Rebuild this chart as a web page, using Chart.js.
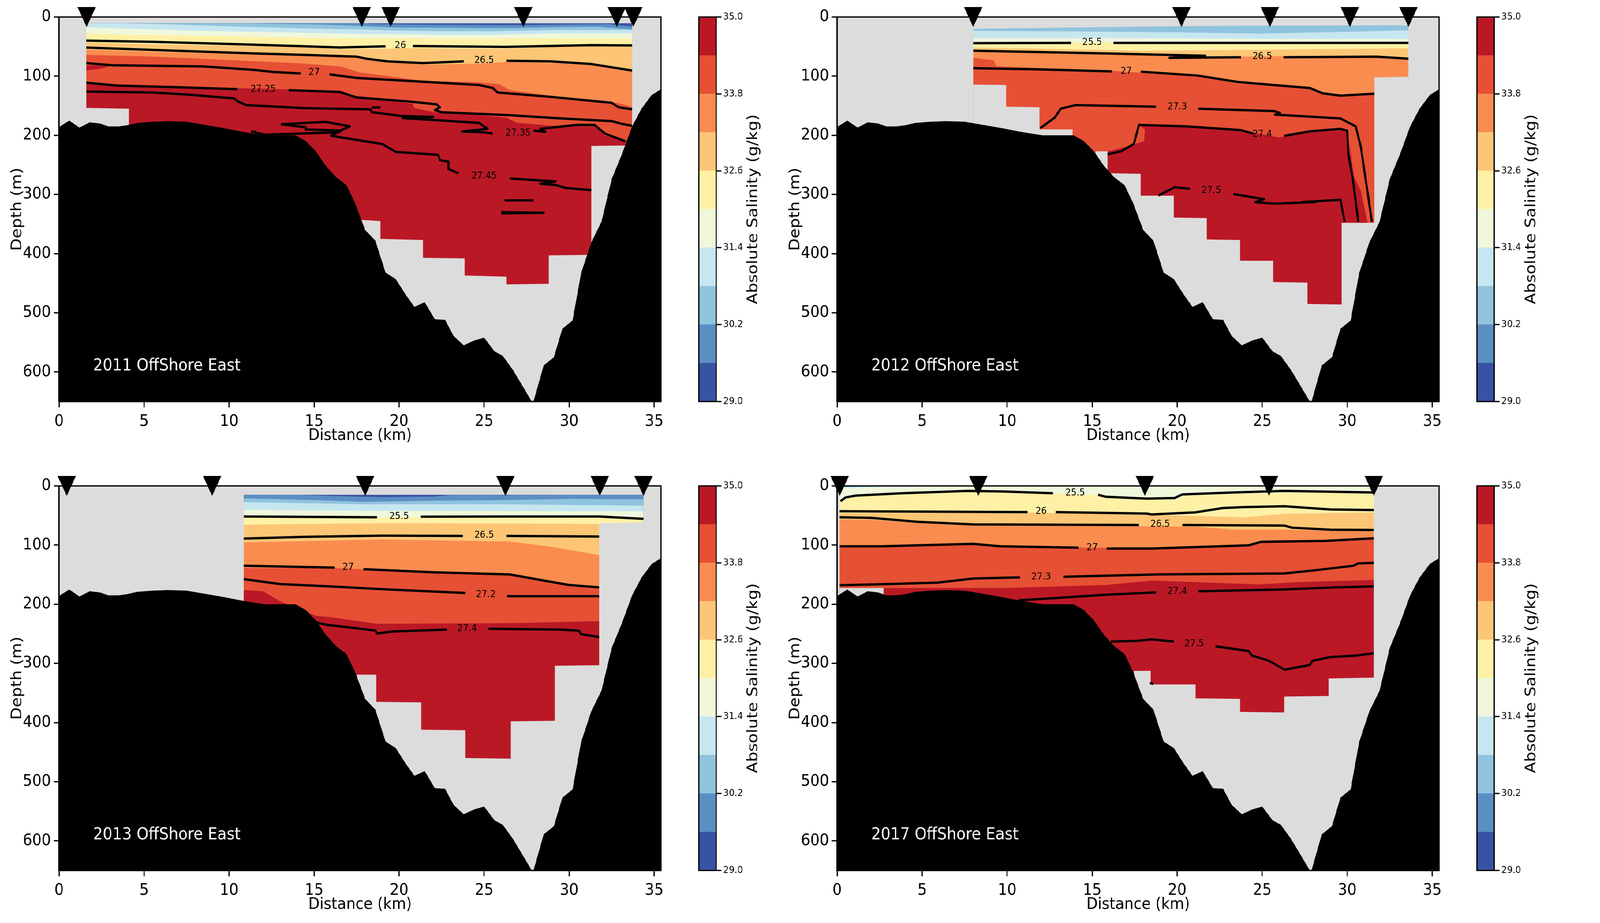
<!DOCTYPE html>
<html>
<head>
<meta charset="utf-8">
<title>OffShore East salinity sections</title>
<script src="https://cdn.jsdelivr.net/npm/chart.js@4/dist/chart.umd.js"></script>
<style>
  html, body { margin: 0; background: #fff; overflow: hidden; }
  #figure { position: absolute; left: 0; top: 0; width: 4524px; height: 2362px; transform-origin: 0 0; }
  canvas { position: absolute; }
</style>
</head>
<body>
<div id="figure"></div>
<script>
// bathymetry, km / m
const bathymetry = [[0,186],[0.6,175],[1.2,187],[1.8,178],[2.4,180],[2.9,185],[3.5,185],[4,183],[4.6,179],[5.5,177],[6.4,176],[7.5,177],[8.5,182],[9.7,188],[10.6,193],[11.2,196],[12.1,200],[13.9,200],[14.5,209.5],[15.1,227],[15.7,252],[16.3,271],[16.9,284],[17.4,314],[18,360],[18.6,378],[19.2,432],[19.8,443],[20.4,470],[20.9,490],[21.5,482],[22.1,511],[22.7,512],[23.2,539],[23.8,555],[24.4,547],[25,542],[25.6,565],[26.1,573],[26.7,597],[27.2,621],[27.8,650],[27.9,650],[28.5,589],[29.1,575],[29.6,527],[30.2,513],[30.7,433],[31.3,381],[31.9,346],[32.5,274],[33.1,232],[33.7,185],[34.25,155],[34.85,132],[35.4,122]];

const cbarColors = ['#3953a4','#5b8fc4','#90c3dd','#c6e6f0','#f0f8dc','#fef1a6','#fdc676','#fa8c50','#e65034','#bb1826'];
const cbarEdges = [29,29.6,30.2,30.8,31.4,32,32.6,33.2,33.8,34.4,35];
const cbarTicks = [29,30.2,31.4,32.6,33.8,35];

// top edge of each salinity band (index = colour), null when the band is absent
const bands2011 = [
  [[1.6,10.5],[33.7,10.5]],
  [[1.6,10.5],[17.9,10.5],[18.5,12],[22.1,13],[26.9,13.8],[30.5,12.5],[32.3,12],[33.7,16]],
  [[1.6,10.5],[10.9,10.5],[12.8,11.8],[15.2,12.5],[17.6,15],[19.7,17.6],[22.1,18],[24.5,18.7],[26.9,18.7],[29.3,17],[31.7,16.4],[33.7,20.8]],
  [[1.6,10.5],[3.7,10.5],[6,12],[9.2,15],[11.6,17],[14,19],[17.6,21],[19.7,23],[22.1,24],[25.7,24],[29.3,22],[33.7,22]],
  [[1.6,17.5],[4.4,20],[9.2,24],[12.8,26],[17.6,28.6],[19.7,29],[22.1,30],[25.7,30],[29.3,27.6],[33.7,27.6]],
  [[1.6,27.5],[4.4,30],[9.2,32],[12.8,34],[17.6,36],[33.7,36]],
  [[1.6,43],[5.6,46],[10.4,48.5],[14,50.7],[16.4,54],[18.5,54],[20.9,52.5],[25.7,54],[29.3,50.5],[33.7,46]],
  [[1.6,55],[5.6,59],[11.6,63],[16.4,65],[17.34,68],[19.1,76],[21.4,80.5],[24.5,79],[26.3,76],[29.3,78],[31.7,81.6],[33.7,91.5]],
  [[1.6,64],[5.6,67],[9.2,71.6],[14,78],[16.6,83.8],[17.7,94],[19.1,99],[21.5,108],[24.5,110],[25.9,113.6],[26.5,123.5],[29.3,134.5],[31.7,141],[32.9,145.6],[33.7,152]],
  [[1.6,111],[5.6,117],[11.6,121],[16.6,124.6],[17.34,133],[19,139],[20.8,146.6],[20.9,154],[22.1,161],[24.5,165.5],[26.3,170],[26.9,178.7],[29,184],[30.4,184.5],[31.5,185],[32.1,200],[33.3,210],[33.7,212]]
];
const bands2012 = [
  null, null,
  [[8,20],[12,18.5],[20,15.5],[25.6,14.5],[33.6,14]],
  [[8,23.4],[14,24.5],[20,26],[25,28],[30,25],[33.6,22.5]],
  [[8,36],[20,36],[25,37],[33.6,36.8]],
  [[8,43],[33.6,43]],
  [[8,52],[12,53.5],[18,57],[22,56],[26,55],[33.6,53]],
  [[8,58],[14,60],[19,66],[22,68],[26,66],[30,67],[33.6,70.5]],
  [[8,69],[9.2,73],[9.35,83],[11.9,86.5],[15.8,90.5],[21.35,100.4],[23.6,112.8],[27.8,120],[28.7,131],[29.6,135],[31.6,130]],
  null
];
const bands2013 = [
  [[10.86,15],[34.37,15]],
  [[10.86,15],[14,15],[16,17],[19,19],[22,18],[23,15.5],[34.37,15]],
  [[10.86,21],[15,24],[18,27],[22,25],[26,24],[30,22],[34.37,22.5]],
  [[10.86,27.3],[18,31],[26,31],[34.37,33.3]],
  [[10.86,40.8],[18,42],[34.37,43]],
  [[10.86,53],[34.37,53]],
  [[10.86,65.6],[19,63],[31.76,64],[34.37,62]],
  [[10.86,95.4],[19,90.5],[26.5,94],[29,103],[31.76,117]],
  [[10.86,138.7],[16,138.7],[26.5,150],[29,165],[31.76,172.5]],
  [[10.86,176],[12,178],[13,195],[15.1,219.7],[16,222],[18.7,233],[26.5,232],[31.76,228.6]]
];
const bands2017 = [
  null,
  [[0.15,0],[31.56,0]],
  [[0.15,1.5],[2,0.8],[5,0],[31.56,0]],
  [[0.15,2],[2,1.2],[7,0],[31.56,0]],
  [[0.15,4],[3,2],[9,0],[31.56,0]],
  [[0.15,26],[1,18],[3,15],[8,10],[13,13],[16,16],[18,22],[20,22],[20.5,16],[25,12],[28,11],[31.56,12]],
  [[0.15,46],[11.2,45],[18.2,49],[20,50],[24,53],[26.3,47],[31.56,45]],
  [[0.15,56.7],[2,57],[4.7,63],[8,67],[17.75,68],[21.2,69],[23.3,74],[26.3,74],[31.56,77]],
  [[0.15,102],[8,98.5],[14,104],[18.5,105.5],[24.2,100],[25,95],[28.7,93],[31.56,88]],
  [[0.15,172.5],[9.8,172.5],[15.8,167.5],[18.5,160],[24.8,166.5],[27.2,162.5],[31.56,159]]
];

// closed dark red areas that are not a simple top edge
const patches2011 = [[[1.6,82],[3,81],[2.9,84],[2.3,88],[1.6,90]]];
const patches2012 = [[[15.9,227],[17,219.7],[18.05,209.7],[18.1,190],[17.75,182.4],[20.6,185],[23.9,192.3],[26,203.8],[27.8,192.3],[29.6,189],[30,192.3],[30.4,269.4],[30.8,294],[31.2,348],[31.2,500],[15.9,500]]];
const patches2013 = [];
const patches2017 = [];

// bottom of the sampled section
const floor2011 = [[1.6,153.6],[4.1,155],[4.1,650],[17.8,650],[17.8,343],[18.9,345],[18.9,375],[21.4,377],[21.4,407],[23.85,408],[23.85,437],[26.3,439],[26.3,452],[28.8,451],[28.8,403],[31.3,402],[31.3,218],[33.7,217]];
const floor2012 = [[8,114.3],[9.94,115],[9.94,151.6],[11.9,152.6],[11.9,190],[13.85,190],[13.85,650],[15.2,650],[15.2,227],[15.9,227],[15.9,264],[17.85,265],[17.85,302],[19.8,302],[19.8,339],[21.74,340],[21.74,376],[23.7,377],[23.7,412],[25.65,412],[25.65,448],[27.66,449],[27.66,485],[29.67,486],[29.67,348],[31.6,348],[31.6,102],[33.6,101]];
const floor2013 = [[10.86,650],[17.5,650],[17.5,319],[18.66,319],[18.66,365],[21.3,366],[21.3,412],[23.9,413],[23.9,460],[26.57,461],[26.57,398],[29.15,397],[29.15,304],[31.76,303],[31.76,63],[34.37,62]];
const floor2017 = [[0.15,172.5],[2.73,172.5],[2.73,650],[17.45,650],[17.45,312.6],[18.44,312.6],[18.44,335.5],[21.08,335.5],[21.08,359],[23.7,360],[23.7,382],[26.3,383],[26.3,356],[28.9,355],[28.9,325.5],[31.56,324]];

// density contours, null = gap for the label
const contours2011 = [
  [[1.6,40],[5.5,42],[10.6,46],[14.5,49.5],[16.5,51.5],[19.2,49.5],null,[20.8,49],[26.2,50.5],[31.3,47.5],[33.7,48]],
  [[1.6,51.7],[5.5,55.7],[11.5,61.6],[14.5,64],[17.5,67],[18.1,70.6],[19.3,75],[21.4,78],[23.8,75],null,[26.3,74],[28.9,75],[31.3,79.5],[33.7,90.5]],
  [[1.6,78],[3.1,81.5],[8.5,83.5],[11.5,89.5],[12.6,93],[14.2,95.4],null,[15.9,97],[17.5,103],[20.5,108],[24.7,115],[25.5,120],[25.8,127.7],[28.9,135],[32.5,145],[32.9,152.6],[33.7,156]],
  [[1.6,111],[3.4,116],[7,118.7],[10.5,122],null,[13.5,123.7],[16.5,126.7],[17.5,136],[20.5,142.6],[22.2,147.6],[22.4,152.6],[22.1,157.5],[22.5,161],[26.5,166],[29.2,171],[32.5,176],[33,180],[33.7,184]],
  [[1.6,126],[5.5,127.7],[7.5,131],[10.3,137.7],[10.5,142.6],[11,149],[14.5,154],[18.3,156],[18.4,161],[20.2,167.5],[22,169],[20.2,171],[22,174],[24.7,179],[25.2,189],[23.7,193.5],[25,195],[25.5,197],null,[27.9,192],[28.6,194],[28.3,189],[30.4,182.5],[31.5,182.5],[32.1,197],[33.3,210]],
  [[11.5,195],[12.1,199],[16.3,195],[17.1,185],[16,179],[15.7,177.4],[14.5,179],[13.1,181.4],[14.5,186.4],[14.5,190],[16.6,192],[16,200.8],[19,214.7],[19.8,228],[22.3,233],[22.4,242],[22.9,244.5],[22.9,257],[23.5,264.4],null,[26.5,273],[29.2,278],[28.3,282],[29.2,284],[29.8,289],[31.3,292.7]],
  [[18.4,153],[18.9,153]],
  [[26.2,310],[27.9,310]],
  [[26,330],[28.5,331],[26,332]],
  [[11.3,194],[11.6,194]]
];
const contours2012 = [
  [[8,44.2],[13.75,43.7],null,[16.25,43.7],[33.6,43.7]],
  [[8,57],[15.8,61.6],[21.65,65.6],[19.55,69],[23.75,68],null,[26.25,68],[31.7,67],[33.6,70.5]],
  [[8,86.5],[11.9,88.5],[16.15,92],null,[17.85,92.4],[21.2,99],[23.6,110],[27.8,120],[28.55,129],[29.6,133],[31.6,129.7]],
  [[11.95,188],[12.8,170],[13.15,155],[14,149],[18.75,151.6],null,[21.25,155],[25.7,159],[26.05,162.5],[25.75,165],[29.6,171.5],[30.5,185],[30.8,219.7],[31.45,346.5]],
  [[15.9,232],[16.7,227],[17.45,214.7],[17.75,182.4],[20.6,185],[23.75,191.3],[24.5,197.3],null,[26.3,200.8],[27.8,193.3],[29.6,189],[30,192.3],[30.05,229.6],[30.35,279.3],[30.65,346.4]],
  [[18.9,301.7],[19.85,287.8],[20.75,290.3],null,[23.3,299.2],[25.1,308],[24.6,313],[25.7,315.6],[28.1,313],[27.35,313],[29.6,309],[29.85,346.4]]
];
const contours2013 = [
  [[10.86,51.7],[18.7,53],null,[21.26,52],[26.5,51.7],[31.76,51.7],[34.37,55.7]],
  [[10.86,89],[14.5,86],[19,84],[23.75,84.5],null,[26.3,84.5],[31.76,85.5]],
  [[10.86,135],[16.2,138],null,[17.9,140.7],[22,146],[26.5,149.6],[29,162.5],[30,167.5],[31.76,171.5]],
  [[10.86,157.5],[13,166],[16,170],[19,174.5],[23.9,181],null,[26.35,186.4],[31.76,186.4]],
  [[15.1,230.6],[15.7,234.6],[17.5,240.6],[18.6,244.5],[18.7,249.5],[19.6,246],[22.8,243],null,[25.25,241.5],[29.5,243],[30.56,244.5],[30.7,250.5],[31.76,255.5]]
];
const contours2017 = [
  [[0.2,25.8],[0.5,19.4],[1.1,16.4],[3.8,12.4],[7.7,8.4],[9.8,9.4],[12.7,12.4],null,[15.35,14.9],[15.8,18.4],[18.2,21.4],[19.85,20.4],[20.3,14.4],[23.3,11],[26.3,8.4],[31.56,11]],
  [[0.15,42.7],[11.2,44.2],null,[12.85,44.2],[18.2,46.7],[18.5,48.2],[21.05,44.7],[22.7,37.3],[23.9,35.8],[26.3,34.3],[29,39.8],[31.56,40.8]],
  [[0.15,53],[2,54],[4.7,60.6],[8,65],[17.75,66],null,[20.3,66],[26.3,67],[26.75,70.6],[29,74],[31.56,74.5]],
  [[0.15,102],[2.6,102],[8,98],[9.6,102],[14.2,104.4],null,[15.85,105.9],[18.5,105.9],[24.2,100.4],[24.95,94.4],[28.7,93],[31.56,88.5]],
  [[0.15,168],[2.9,166],[5.9,163.5],[8,156.6],[10.75,154.6],null,[13.3,153.6],[18.8,149.6],[26.3,148],[28.1,142.6],[30.35,135],[30.65,131],[31.56,130.2]],
  [[10.7,193.3],[11.9,191.3],[15.8,184],[18.75,180],null,[21.25,178],[26.3,175],[29.3,171.5],[31.56,170]],
  [[16.1,263],[17.6,262],[18.5,259.5],[19.8,263],null,[22.25,271],[24.2,279.3],[24.4,286.8],[25.4,295.7],[26.3,310.6],[27.8,302.7],[27.95,295.7],[29,289.3],[30.5,286.8],[31.56,282.8]],
  [[18.4,333],[18.6,335]]
];

const labels2011 = [[20.07,48,'26'],[25,73,'26.5'],[15,94,'27'],[12,122,'27.25'],[27,196,'27.35'],[25,269,'27.45']];
const labels2012 = [[15,42.7,'25.5'],[25,66.6,'26.5'],[17,91.5,'27'],[20,152,'27.3'],[25,198.3,'27.4'],[22,293,'27.5']];
const labels2013 = [[20,51.7,'25.5'],[25,83.5,'26.5'],[17,137.7,'27'],[25.1,183.4,'27.2'],[24,241,'27.4']];
const labels2017 = [[14,12,'25.5'],[12,43.2,'26'],[19,65,'26.5'],[15,104.4,'27'],[12,153.6,'27.3'],[20,178.4,'27.4'],[21,267,'27.5']];

const stations2011 = [1.62,17.8,19.5,27.3,32.8,33.77];
const stations2012 = [8,20.25,25.45,30.15,33.6];
const stations2013 = [0.45,9,18,26.25,31.8,34.37];
const stations2017 = [0.15,8.3,18.1,25.4,31.56];

const FONT = 'DejaVu Sans';
const LINE = 3.3;

// the window can come out narrower than the figure, so fit the width
const figure = document.getElementById('figure');
figure.style.transform = 'scale(' + (window.innerWidth / 4524) + ',' + (window.innerHeight / 2362) + ')';

const toPts = arr => arr.map(p => p ? { x: p[0], y: p[1] } : { x: null, y: null });

function addCanvas(left, top, w, h) {
  const c = document.createElement('canvas');
  c.width = w; c.height = h;
  c.style.left = left + 'px'; c.style.top = top + 'px';
  c.style.width = w + 'px'; c.style.height = h + 'px';
  figure.appendChild(c);
  return c;
}

// matplotlib style 'v' marker
function triangleMarker() {
  const m = document.createElement('canvas');
  m.width = 52; m.height = 51;
  const g = m.getContext('2d');
  g.beginPath(); g.moveTo(0, 0); g.lineTo(52, 0); g.lineTo(26, 51); g.closePath();
  g.fillStyle = '#000'; g.fill();
  return m;
}
const marker = triangleMarker();

const frame = {
  id: 'frame',
  afterDraw(chart) {
    const { ctx, chartArea: a } = chart;
    ctx.save();
    ctx.strokeStyle = '#000'; ctx.lineWidth = LINE;
    ctx.strokeRect(a.left, a.top, a.right - a.left, a.bottom - a.top);
    ctx.restore();
  }
};

function drawSection(left, top, year, bands, patches, floor, contours, labels, stations) {
  const canvas = addCanvas(left, top, 1900, 1163);
  const fillDown = (pts, color) => ({
    data: toPts(pts), showLine: true, fill: { value: 650 }, backgroundColor: color,
    borderWidth: 0, pointRadius: 0
  });

  // painter's order, handed to the chart reversed because it draws the last dataset first
  const layers = [];
  bands.forEach((b, i) => { if (b) layers.push(fillDown(b, cbarColors[i])); });
  patches.forEach(p => layers.push({
    data: toPts(p), showLine: true, fill: 'shape', backgroundColor: cbarColors[9],
    borderWidth: 0, pointRadius: 0
  }));
  layers.push(fillDown(floor, '#dcdcdc'));
  contours.forEach(c => layers.push({
    data: toPts(c), showLine: true, fill: false, borderColor: '#000', borderWidth: 6,
    borderJoinStyle: 'round', pointRadius: 0
  }));
  layers.push(fillDown(bathymetry, '#000'));
  layers.push({
    data: stations.map(x => ({ x, y: 0 })), showLine: false, pointStyle: marker,
    pointRadius: 26, clip: false
  });

  const annotate = {
    id: 'annotate',
    beforeDraw(chart) {
      const { ctx, chartArea: a } = chart;
      ctx.fillStyle = '#dcdcdc';
      ctx.fillRect(a.left, a.top, a.right - a.left, a.bottom - a.top);
    },
    afterDatasetsDraw(chart) {
      const { ctx, scales: { x, y } } = chart;
      ctx.save();
      ctx.textAlign = 'center'; ctx.textBaseline = 'middle';
      ctx.font = '25px "' + FONT + '"';
      ctx.fillStyle = '#000';
      labels.forEach(l => ctx.fillText(l[2], x.getPixelForValue(l[0]), y.getPixelForValue(l[1])));
      ctx.textAlign = 'left';
      ctx.font = '43px "' + FONT + '"';
      ctx.fillStyle = '#fff';
      ctx.fillText(year + ' OffShore East', x.getPixelForValue(2), y.getPixelForValue(590));
      ctx.restore();
    }
  };

  const axisCommon = {
    grid: { drawOnChartArea: false, tickLength: 15, tickWidth: LINE, tickColor: '#000' },
    border: { color: '#000', width: LINE }
  };

  new Chart(canvas, {
    type: 'scatter',
    data: { datasets: layers.reverse() },
    plugins: [annotate, frame],
    options: {
      responsive: false,
      animation: false,
      layout: { autoPadding: false, padding: { top: 43.5, right: 31, left: 0, bottom: 0 } },
      plugins: { legend: { display: false }, tooltip: { enabled: false } },
      scales: {
        x: {
          ...axisCommon, type: 'linear', min: 0, max: 35.4,
          afterFit: s => { s.height = 135.5; },
          ticks: { stepSize: 5, includeBounds: false, color: '#000', maxRotation: 0, padding: 12, font: { family: FONT, size: 41.67 } },
          title: { display: true, text: 'Distance (km)', color: '#000', padding: { top: 0, bottom: 23 }, font: { family: FONT, size: 41.67 } }
        },
        y: {
          ...axisCommon, type: 'linear', reverse: true, min: 0, max: 650,
          afterFit: s => { s.width = 167; },
          ticks: { stepSize: 100, includeBounds: false, color: '#000', padding: 8, font: { family: FONT, size: 41.67 } },
          title: { display: true, text: 'Depth (m)', color: '#000', padding: { top: 24, bottom: 0 }, font: { family: FONT, size: 41.67 } }
        }
      }
    }
  });
}

function drawColorbar(left, top) {
  const canvas = addCanvas(left, top, 200, 1163);
  const rotatedTitle = {
    id: 'rotatedTitle',
    afterDraw(chart) {
      const { ctx, chartArea: a } = chart;
      ctx.save();
      ctx.translate(160, (a.top + a.bottom) / 2);
      ctx.rotate(-Math.PI / 2);
      ctx.textAlign = 'center'; ctx.textBaseline = 'middle';
      ctx.font = '41.67px "' + FONT + '"';
      ctx.fillStyle = '#000';
      ctx.fillText('Absolute Salinity (g/kg)', 0, 0);
      ctx.restore();
    }
  };
  new Chart(canvas, {
    type: 'bar',
    data: {
      labels: [''],
      datasets: cbarColors.map((c, i) => ({
        data: [[cbarEdges[i], cbarEdges[i + 1]]], backgroundColor: c,
        barPercentage: 1, categoryPercentage: 1, borderWidth: 0
      }))
    },
    plugins: [frame, rotatedTitle],
    options: {
      responsive: false,
      animation: false,
      layout: { autoPadding: false, padding: { top: 43.5, left: 6, right: 0, bottom: 135.5 } },
      plugins: { legend: { display: false }, tooltip: { enabled: false } },
      scales: {
        x: { stacked: true, display: false },
        y: {
          position: 'right', min: 29, max: 35,
          afterBuildTicks: s => { s.ticks = cbarTicks.map(value => ({ value })); },
          afterFit: s => { s.width = 145; },
          grid: { drawOnChartArea: false, tickLength: 15, tickWidth: LINE, tickColor: '#000' },
          border: { color: '#000', width: LINE },
          ticks: { color: '#000', padding: 5, callback: v => v.toFixed(1), font: { family: FONT, size: 25 } }
        }
      }
    }
  });
}

drawSection(0, 0, 2011, bands2011, patches2011, floor2011, contours2011, labels2011, stations2011);
drawSection(2200, 0, 2012, bands2012, patches2012, floor2012, contours2012, labels2012, stations2012);
drawSection(0, 1199.5, 2013, bands2013, patches2013, floor2013, contours2013, labels2013, stations2013);
drawSection(2200, 1199.5, 2017, bands2017, patches2017, floor2017, contours2017, labels2017, stations2017);
drawColorbar(1970, 0);
drawColorbar(4170, 0);
drawColorbar(1970, 1199.5);
drawColorbar(4170, 1199.5);
</script>
</body>
</html>
